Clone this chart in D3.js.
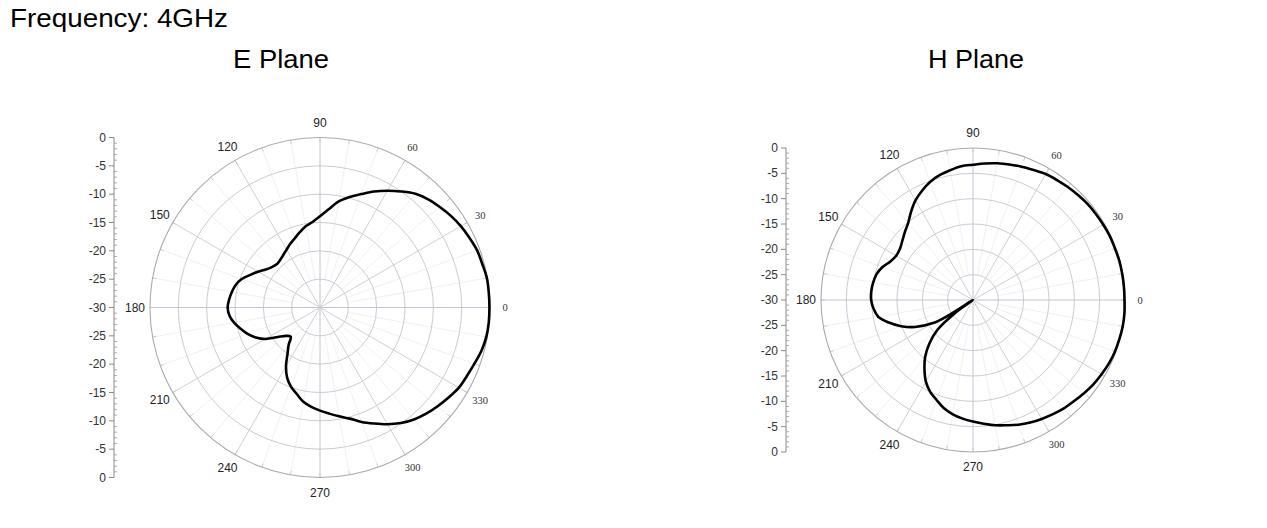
<!DOCTYPE html>
<html>
<head>
<meta charset="utf-8">
<script src="https://cdn.jsdelivr.net/npm/d3@7"></script>
<style>
  html, body { margin: 0; padding: 0; background: #fff; }
  svg { display: block; }
</style>
</head>
<body>
<svg id="chart" width="1267" height="528"></svg>
<script>
// ---------- data ----------
const titleText = "Frequency: 4GHz";
const planeTitles = ["E Plane", "H Plane"];

const ePlaneAngles = [0,5,10,15,20,25,30,35,40,45,50,55,60,65,70,75,80,85,90,95,100,105,110,115,120,125,130,135,140,145,150,155,160,165,170,175,180,185,190,195,200,205,210,215,220,225,230,235,240,245,250,255,260,265,270,275,280,285,290,295,300,305,310,315,320,325,330,335,340,345,350,355];
const ePlaneGain = [-0.1,-0.1,-0.1,-0.35,-0.5,-0.9,-1.3,-1.8,-2.4,-3.0,-3.8,-5.0,-6.2,-7.4,-8.7,-9.8,-11.0,-12.6,-13.9,-14.85,-15.45,-16.25,-17.0,-17.6,-18.2,-18.7,-19.05,-19.2,-18.9,-18.3,-17.35,-16.4,-15.3,-14.6,-14.2,-13.9,-13.7,-13.95,-14.6,-15.5,-16.4,-17.5,-18.9,-20.9,-22.2,-22.7,-21.4,-20.0,-18.0,-16.3,-15.1,-14.2,-13.1,-12.4,-11.8,-11.2,-10.5,-9.7,-8.5,-7.4,-6.2,-5.1,-4.2,-3.5,-2.9,-2.3,-1.7,-1.4,-1.0,-0.5,-0.2,-0.1];

const hPlaneAngles = [0,5,10,15,20,25,30,35,40,45,50,55,60,65,70,75,80,85,90,95,100,105,110,115,120,125,130,135,140,145,150,155,160,165,170,175,180,185,190,195,200,205,210,212,214.5,216,220,225,230,235,240,245,250,255,260,265,270,275,280,285,290,295,300,305,310,315,320,325,330,335,340,345,350,355];
const hPlaneGain = [-0.1,-0.1,-0.1,-0.1,-0.2,-0.2,-0.3,-0.4,-0.5,-0.7,-0.9,-1.1,-1.3,-1.7,-2.0,-2.3,-2.6,-2.95,-3.3,-3.5,-4.0,-4.5,-5.2,-6.2,-7.3,-8.7,-10.1,-11.0,-11.8,-12.4,-12.5,-12.0,-11.0,-10.3,-10.0,-9.85,-9.9,-10.3,-11.0,-12.8,-14.9,-17.4,-20.9,-24.0,-30.0,-25.5,-20.8,-17.8,-15.3,-13.3,-11.4,-10.0,-9.0,-7.9,-7.1,-6.5,-6.0,-5.5,-4.9,-4.4,-3.8,-3.3,-2.9,-2.5,-2.1,-1.8,-1.4,-1.0,-0.7,-0.4,-0.2,-0.1,0.0,0.0];

const radialTicks = [0,-5,-10,-15,-20,-25,-30];
const angleLabels = [0,30,60,90,120,150,180,210,240,270,300,330];
const serifAngleLabels = [0,30,60,300,330];

// ---------- drawing ----------
const svg = d3.select("#chart");

svg.append("text")
  .attr("x", 10).attr("y", 27)
  .attr("font-family", "Liberation Sans, Arial, sans-serif")
  .attr("font-size", 25.6)
  .attr("textLength", 218).attr("lengthAdjust", "spacingAndGlyphs")
  .attr("fill", "#000")
  .text(titleText);

const panels = [
  { title: planeTitles[0], titleX: 233, cx: 320, cy: 307.5, R: 170, axisX: 114, angles: ePlaneAngles, gain: ePlaneGain },
  { title: planeTitles[1], titleX: 928, cx: 973, cy: 300, R: 152, axisX: 786, angles: hPlaneAngles, gain: hPlaneGain }
];

panels.forEach(p => {
  const g = svg.append("g");

  g.append("text")
    .attr("x", p.titleX).attr("y", 67.5)
    .attr("font-family", "Liberation Sans, Arial, sans-serif")
    .attr("font-size", 25.6)
    .attr("textLength", 96).attr("lengthAdjust", "spacingAndGlyphs")
    .attr("fill", "#000")
    .text(p.title);

  const r = d3.scaleLinear().domain([-30, 0]).range([0, p.R]);
  const toRad = a => a * Math.PI / 180;
  const px = (a, rr) => p.cx + rr * Math.cos(toRad(a));
  const py = (a, rr) => p.cy - rr * Math.sin(toRad(a));

  const grid = g.append("g");
  // minor spokes every 10 degrees
  d3.range(0, 360, 10).filter(a => a % 30 !== 0).forEach(a => {
    grid.append("line")
      .attr("x1", px(a, r(-25))).attr("y1", py(a, r(-25)))
      .attr("x2", px(a, p.R)).attr("y2", py(a, p.R))
      .attr("stroke", "#ececf0").attr("stroke-width", 0.8);
  });
  // circles
  radialTicks.filter(t => t > -30 && t < 0).forEach(t => {
    grid.append("circle")
      .attr("cx", p.cx).attr("cy", p.cy).attr("r", r(t))
      .attr("fill", "none").attr("stroke", "#cbcbd9").attr("stroke-width", 1);
  });
  // major spokes
  d3.range(0, 360, 30).forEach(a => {
    grid.append("line")
      .attr("x1", p.cx).attr("y1", p.cy)
      .attr("x2", px(a, p.R)).attr("y2", py(a, p.R))
      .attr("stroke", a % 90 === 0 ? "#c4c4d4" : "#d0d0d4").attr("stroke-width", 1);
  });
  // outer ticks every 10 deg
  d3.range(0, 360, 10).forEach(a => {
    grid.append("line")
      .attr("x1", px(a, p.R - 4)).attr("y1", py(a, p.R - 4))
      .attr("x2", px(a, p.R)).attr("y2", py(a, p.R))
      .attr("stroke", "#c4c4c4").attr("stroke-width", 0.8);
  });
  grid.append("circle")
    .attr("cx", p.cx).attr("cy", p.cy).attr("r", p.R)
    .attr("fill", "none").attr("stroke", "#a9a9b4").attr("stroke-width", 1.1);

  // angle labels
  angleLabels.forEach(a => {
    const serif = serifAngleLabels.includes(a);
    const off = 15;
    g.append("text")
      .attr("x", px(a, p.R + off)).attr("y", py(a, p.R + off))
      .attr("text-anchor", "middle").attr("dominant-baseline", "central")
      .attr("font-family", serif ? "Liberation Serif, Times New Roman, serif" : "Liberation Sans, Arial, sans-serif")
      .attr("font-size", serif ? 10.5 : 12)
      .attr("fill", serif ? "#333" : "#222")
      .text(a);
  });

  // radial axis at left (top half and bottom half)
  const yTop = d3.scaleLinear().domain([0, -30]).range([p.cy - p.R, p.cy]);
  const yBot = d3.scaleLinear().domain([-30, 0]).range([p.cy, p.cy + p.R]);
  const ax = g.append("g");
  ax.append("line")
    .attr("x1", p.axisX).attr("x2", p.axisX)
    .attr("y1", p.cy - p.R).attr("y2", p.cy + p.R)
    .attr("stroke", "#8a8a8a").attr("stroke-width", 1);
  [yTop, yBot].forEach((ys, i) => {
    d3.range(-30, 1, 1).forEach(v => {
      if (v % 5 !== 0) {
        ax.append("line")
          .attr("x1", p.axisX).attr("x2", p.axisX + 3)
          .attr("y1", ys(v)).attr("y2", ys(v))
          .attr("stroke", "#9a9a9a").attr("stroke-width", 0.8);
      }
    });
    radialTicks.forEach(v => {
      if (i === 1 && v === -30) return;
      ax.append("line")
        .attr("x1", p.axisX - 5).attr("x2", p.axisX)
        .attr("y1", ys(v)).attr("y2", ys(v))
        .attr("stroke", "#8a8a8a").attr("stroke-width", 1);
      ax.append("text")
        .attr("x", p.axisX - 8).attr("y", ys(v))
        .attr("text-anchor", "end").attr("dominant-baseline", "central")
        .attr("font-family", "Liberation Sans, Arial, sans-serif")
        .attr("font-size", 12).attr("fill", "#333")
        .text(v);
    });
  });

  // pattern curve
  const pts = p.angles.map((a, i) => [toRad(90 - a), r(p.gain[i])]);
  const line = d3.lineRadial()
    .angle(d => d[0]).radius(d => d[1])
    .curve(d3.curveCatmullRomClosed.alpha(0.5));
  g.append("path")
    .attr("transform", `translate(${p.cx},${p.cy})`)
    .attr("d", line(pts))
    .attr("fill", "none").attr("stroke", "#000").attr("stroke-width", 2.6)
    .attr("stroke-linejoin", "round");
});
</script>
</body>
</html>
